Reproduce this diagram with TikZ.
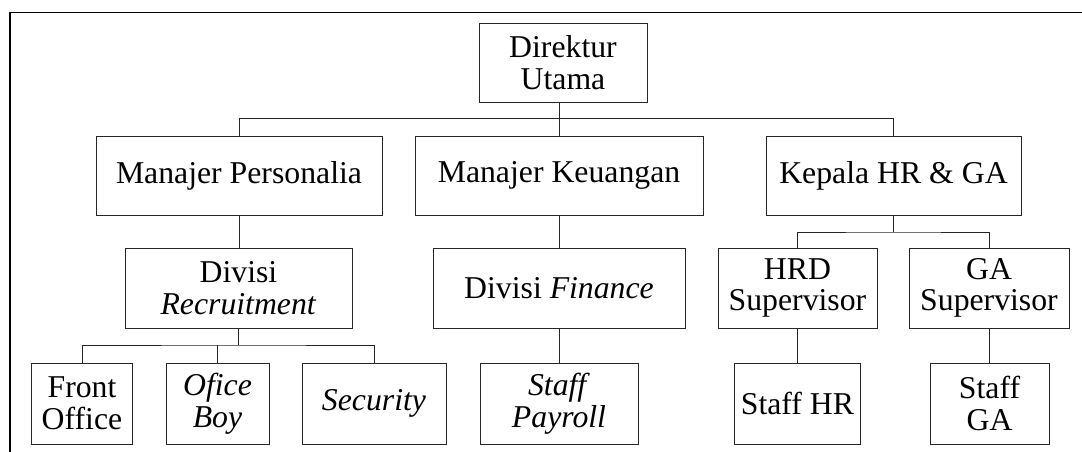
\documentclass[tikz,border=0pt]{standalone}
\usepackage{fontspec}
\setmainfont{Liberation Serif}
\begin{document}
\begin{tikzpicture}[x=1pt,y=-1pt,
  box/.style={draw=black!85,line width=0.9pt,align=center,inner sep=0pt,
    font=\fontsize{31.75}{31.5}\selectfont},
  link/.style={draw=black!85,line width=0.9pt}]
\clip (0,0) rectangle (1082,452);
\fill[white] (0,0) rectangle (1082,452);
\draw[line width=1.3pt] (10,460) -- (10,12.5) -- (1090,12.5);
% level 1
\node[box,minimum width=168pt,minimum height=79pt] (dir) at (563,62.5) {Direktur\\Utama};
% level 2
\node[box,minimum width=286pt,minimum height=79pt] (mp) at (239,175.5) {Manajer Personalia};
\node[box,minimum width=288pt,minimum height=79pt] (mk) at (559,175.5) {Manajer Keuangan};
\node[box,minimum width=255pt,minimum height=79pt] (kp) at (893.5,175.5) {Kepala HR \& GA};
% level 3
\node[box,minimum width=227pt,minimum height=80pt] (dr) at (238.5,288) {Divisi\\\textit{Recruitment}};
\node[box,minimum width=252pt,minimum height=80pt] (df) at (559,288) {Divisi \textit{Finance}};
\node[box,minimum width=159pt,minimum height=80pt] (hrd) at (797.5,288) {HRD\\Supervisor};
\node[box,minimum width=160pt,minimum height=80pt] (ga) at (989,288) {GA\\Supervisor};
% level 4
\node[box,minimum width=101pt,minimum height=81pt] (fo) at (82,403.5) {Front\\Office};
\node[box,minimum width=103pt,minimum height=81pt] (ob) at (217.5,403.5) {\textit{Ofice}\\\textit{Boy}};
\node[box,minimum width=144pt,minimum height=81pt] (sec) at (374,403.5) {\textit{Security}};
\node[box,minimum width=158pt,minimum height=81pt] (sp) at (559,403.5) {\textit{Staff}\\\textit{Payroll}};
\node[box,minimum width=126pt,minimum height=81pt] (shr) at (797.5,403.5) {Staff HR};
\node[box,minimum width=119pt,minimum height=81pt] (sga) at (989.5,403.5) {Staff\\GA};
% buses
\coordinate (b1) at (559,118.5);
\coordinate (b2) at (893.5,232);
\coordinate (b3) at (238.5,345);
% connectors
\draw[link] (dir.south -| mk.north) -- (mk.north);
\draw[link] (mp.north) |- (b1) -| (kp.north);
\draw[link] (mp.south) -- (mp.south |- dr.north);
\draw[link] (mk.south) -- (df.north);
\draw[link] (kp.south) -- (b2);
\draw[link] (hrd.north) |- (b2) -| (ga.north);
\draw[link] (dr.south) -- (b3);
\draw[link] (fo.north) |- (b3) -| (sec.north);
\draw[link] (ob.north) -- (ob.north |- b3);
\draw[link] (df.south) -- (sp.north);
\draw[link] (hrd.south) -- (shr.north);
\draw[link] (ga.south) -- (ga.south |- sga.north);
\end{tikzpicture}
\end{document}
